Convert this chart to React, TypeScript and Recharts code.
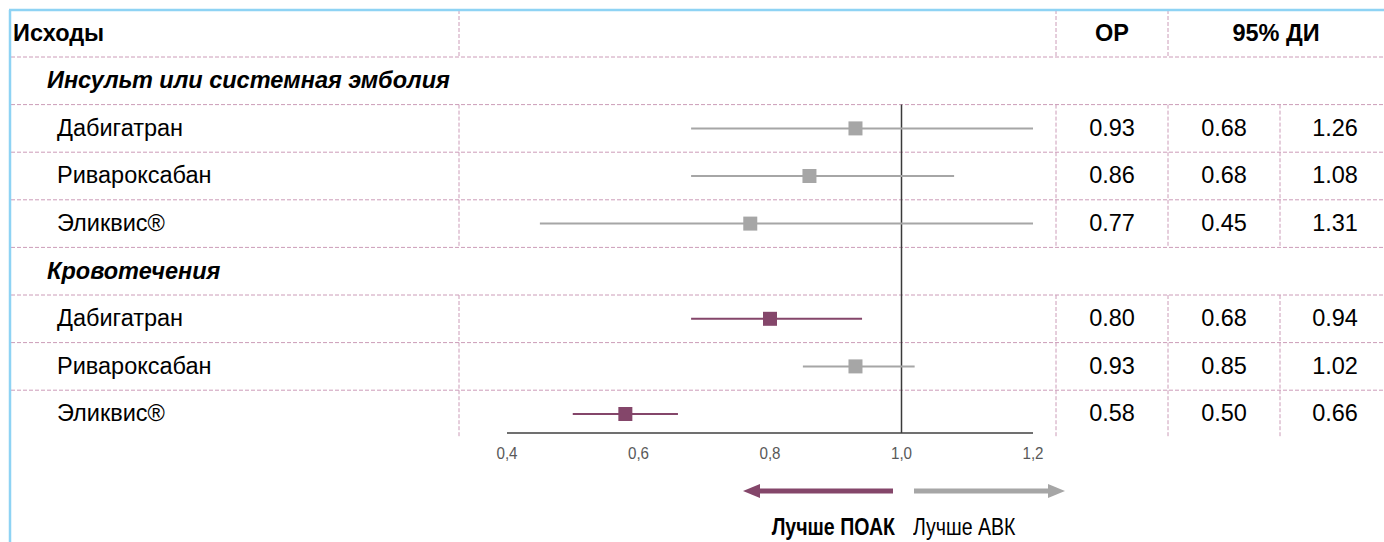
import React from 'react';
import { ScatterChart, Scatter, XAxis, YAxis, ErrorBar, ReferenceLine } from 'recharts';

const groups = ['Инсульт или системная эмболия', 'Кровотечения'];
const drugs = ['Дабигатран', 'Ривароксабан', 'Эликвис®'];
const strokeOR = [0.93, 0.86, 0.77];
const strokeLow = [0.68, 0.68, 0.45];
const strokeHigh = [1.26, 1.08, 1.31];
const bleedOR = [0.8, 0.93, 0.58];
const bleedLow = [0.68, 0.85, 0.5];
const bleedHigh = [0.94, 1.02, 0.66];
const xTicks = [0.4, 0.6, 0.8, 1.0, 1.2];
const headers = ['Исходы', 'ОР', '95% ДИ'];
const arrowLabels = ['Лучше ПОАК', 'Лучше АВК'];

const W = 1384;
const H = 542;
const BORDER_Y = 10;
const TABLE_TOP = 57;
const ROW_H = 47.6;
const PLOT_L = 507;
const PLOT_R = 1033;
const AXIS_Y = 433;
const X_AXIS_H = 30;
const COLS = [459, 1056, 1168, 1280];
const NUM_CENTERS = [1112, 1224, 1335];

const PURPLE = '#84466A';
const GREY = '#A6A6A6';
const GRID = '#CC9CB8';
const BLUE = '#8ED3F4';
const FONT = "'Liberation Sans', Arial, sans-serif";
const NARROW_SCALE = 0.85; // Arial Narrow look from Liberation Sans

type Row = {
  kind: 'group' | 'item';
  label: string;
  row: number;
  or?: number;
  lo?: number;
  hi?: number;
};

const groupValues = [
  { or: strokeOR, lo: strokeLow, hi: strokeHigh },
  { or: bleedOR, lo: bleedLow, hi: bleedHigh },
];

const rows: Row[] = [];
groups.forEach((g, gi) => {
  rows.push({ kind: 'group', label: g, row: rows.length });
  drugs.forEach((d, di) => {
    rows.push({
      kind: 'item',
      label: d,
      row: rows.length,
      or: groupValues[gi].or[di],
      lo: groupValues[gi].lo[di],
      hi: groupValues[gi].hi[di],
    });
  });
});

const points = rows.filter((r) => r.kind === 'item');
const favoured = points.filter((p) => (p.hi as number) < 1);
const neutral = points.filter((p) => (p.hi as number) >= 1);

const xMin = xTicks[0];
const xMax = xTicks[xTicks.length - 1];
// CI whiskers are cut at the ends of the axis, as in the original
const ciOffsets = (p: Row) => [
  (p.or as number) - Math.max(p.lo as number, xMin),
  Math.min(p.hi as number, xMax) - (p.or as number),
];
const rowTop = (k: number) => TABLE_TOP + ROW_H * k;
const yMin = 0.5;
const yMax = (AXIS_Y - TABLE_TOP) / ROW_H - 0.5;

const square = (color: string) => (props: any) => {
  const { cx, cy } = props;
  return <rect x={cx - 7} y={cy - 7} width={14} height={14} fill={color} />;
};

const NarrowTick = (props: any) => {
  const { x, y, payload } = props;
  return (
    <g transform={`translate(${x},${y})`}>
      <text
        transform="scale(0.95,1)"
        textAnchor="middle"
        dy="0.72em"
        fill="#595959"
        fontSize={16}
        fontFamily={FONT}
      >
        {Number(payload.value).toFixed(1).replace('.', ',')}
      </text>
    </g>
  );
};

function Grid() {
  const dash = { stroke: GRID, strokeWidth: 1, strokeDasharray: '4 2' };
  const lines: React.ReactNode[] = [];
  for (let j = 0; j < rows.length; j++) {
    lines.push(<line key={'h' + j} x1={11} x2={W} y1={rowTop(j)} y2={rowTop(j)} {...dash} />);
  }
  COLS.slice(0, 3).forEach((x, i) => {
    lines.push(<line key={'hv' + i} x1={x} x2={x} y1={BORDER_Y} y2={TABLE_TOP} {...dash} />);
  });
  rows.forEach((r) => {
    if (r.kind !== 'item') return;
    COLS.forEach((x, i) => {
      lines.push(
        <line key={'v' + r.row + '-' + i} x1={x} x2={x} y1={rowTop(r.row)} y2={rowTop(r.row + 1)} {...dash} />
      );
    });
  });
  return (
    <svg width={W} height={H} style={{ position: 'absolute', left: 0, top: 0 }}>
      {lines}
      <line x1={10} x2={10} y1={BORDER_Y} y2={H} stroke={BLUE} strokeWidth={2.5} />
      <line x1={9} x2={W} y1={BORDER_Y} y2={BORDER_Y} stroke={BLUE} strokeWidth={2.5} />
      <line x1={893} x2={756} y1={491} y2={491} stroke={PURPLE} strokeWidth={5} />
      <polygon points="743,491 760,484 760,498" fill={PURPLE} />
      <line x1={914} x2={1052} y1={491} y2={491} stroke={GREY} strokeWidth={5} />
      <polygon points="1065,491 1048,484 1048,498" fill={GREY} />
    </svg>
  );
}

function Cell({ x, y, w, h, align, children, style }: any) {
  return (
    <div
      style={{
        position: 'absolute',
        left: x,
        top: y,
        width: w,
        height: h,
        display: 'flex',
        alignItems: 'center',
        justifyContent: align === 'center' ? 'center' : align === 'right' ? 'flex-end' : 'flex-start',
        whiteSpace: 'nowrap',
        ...style,
      }}
    >
      {children}
    </div>
  );
}

export default function App() {
  const textBase = { fontFamily: FONT, fontSize: 23.5, color: '#000' };
  const narrow = { fontFamily: FONT, fontSize: 23, color: '#000' };
  return (
    <div style={{ position: 'absolute', left: 0, top: 0, width: W, height: H, background: '#fff', overflow: 'hidden' }}>
      <Grid />
      <div style={{ position: 'absolute', left: 0, top: 0 }}>
        <ScatterChart
          width={W}
          height={H}
          margin={{ top: TABLE_TOP + ROW_H, right: W - PLOT_R, bottom: H - AXIS_Y - X_AXIS_H, left: PLOT_L }}
        >
          <XAxis
            type="number"
            dataKey="or"
            domain={[xMin, xMax]}
            ticks={xTicks}
            allowDataOverflow
            height={X_AXIS_H}
            tickLine={false}
            tickSize={0}
            tickMargin={14}
            axisLine={{ stroke: '#404040', strokeWidth: 1.5 }}
            tick={NarrowTick}
          />
          <YAxis type="number" dataKey="row" domain={[yMin, yMax]} reversed hide allowDataOverflow />
          <ReferenceLine x={1} stroke="#3A3A3A" strokeWidth={1.5} />
          <Scatter data={neutral} isAnimationActive={false} shape={square(GREY)}>
            <ErrorBar dataKey={ciOffsets} direction="x" width={0} stroke={GREY} strokeWidth={2} />
          </Scatter>
          <Scatter data={favoured} isAnimationActive={false} shape={square(PURPLE)}>
            <ErrorBar dataKey={ciOffsets} direction="x" width={0} stroke={PURPLE} strokeWidth={2} />
          </Scatter>
        </ScatterChart>
      </div>

      <Cell x={13} y={BORDER_Y} w={300} h={TABLE_TOP - BORDER_Y} style={{ ...textBase, fontWeight: 700 }}>
        {headers[0]}
      </Cell>
      <Cell x={COLS[1]} y={BORDER_Y} w={COLS[2] - COLS[1]} h={TABLE_TOP - BORDER_Y} align="center" style={{ ...textBase, fontWeight: 700 }}>
        {headers[1]}
      </Cell>
      <Cell x={COLS[2]} y={BORDER_Y} w={W - COLS[2]} h={TABLE_TOP - BORDER_Y} align="center" style={{ ...textBase, fontWeight: 700 }}>
        {headers[2]}
      </Cell>

      {rows.map((r) =>
        r.kind === 'group' ? (
          <Cell key={'g' + r.row} x={47} y={rowTop(r.row)} w={500} h={ROW_H} style={{ ...textBase, fontWeight: 700, fontStyle: 'italic' }}>
            {r.label}
          </Cell>
        ) : (
          <React.Fragment key={'r' + r.row}>
            <Cell x={57} y={rowTop(r.row)} w={380} h={ROW_H} style={textBase}>
              {r.label}
            </Cell>
            {[r.or, r.lo, r.hi].map((v, i) => (
              <Cell key={i} x={NUM_CENTERS[i] - 50} y={rowTop(r.row)} w={100} h={ROW_H} align="center" style={textBase}>
                {(v as number).toFixed(2)}
              </Cell>
            ))}
          </React.Fragment>
        )
      )}

      <Cell
        x={495}
        y={511}
        w={400}
        h={32}
        align="right"
        style={{ ...narrow, fontWeight: 700, transform: `scaleX(${NARROW_SCALE})`, transformOrigin: 'right center' }}
      >
        {arrowLabels[0]}
      </Cell>
      <Cell
        x={913}
        y={511}
        w={300}
        h={32}
        style={{ ...narrow, transform: `scaleX(${NARROW_SCALE})`, transformOrigin: 'left center' }}
      >
        {arrowLabels[1]}
      </Cell>
    </div>
  );
}
